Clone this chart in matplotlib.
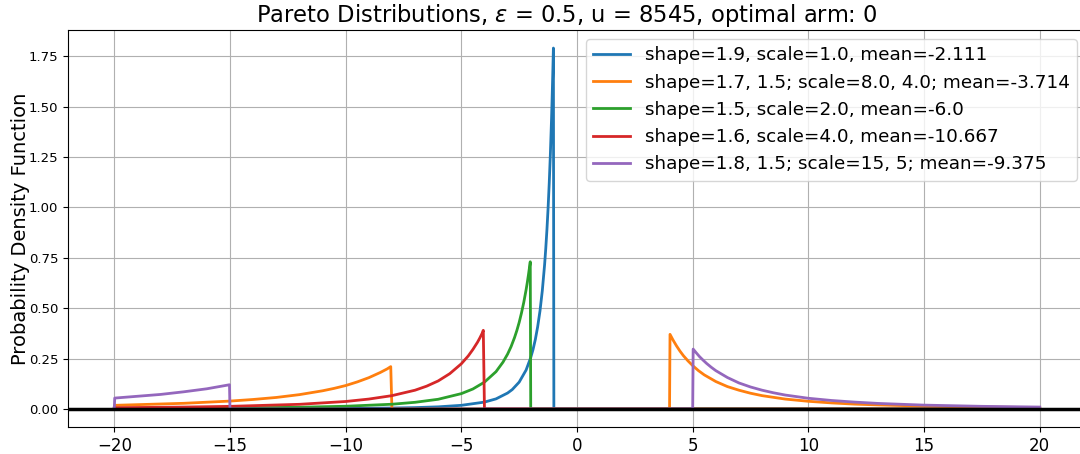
import matplotlib
matplotlib.use("Agg")
import matplotlib.pyplot as plt

labels = [
    "shape=1.9, scale=1.0, mean=-2.111",
    "shape=1.7, 1.5; scale=8.0, 4.0; mean=-3.714",
    "shape=1.5, scale=2.0, mean=-6.0",
    "shape=1.6, scale=4.0, mean=-10.667",
    "shape=1.8, 1.5; scale=15, 5; mean=-9.375",
]
colors = ["#1f77b4", "#ff7f0e", "#2ca02c", "#d62728", "#9467bd"]

# pdf values
blue_x = [-20, -15, -12, -10, -8, -7, -6, -5, -4, -3.5, -3, -2.8, -2.5, -2.2, -2, -1.9,
          -1.8, -1.7, -1.6, -1.5, -1.4, -1.35, -1.3, -1.25, -1.2, -1.15, -1.1, -1.08,
          -1.05, -1.04, -1.02, -1.0, 20]
blue_y = [0.0003, 0.0007, 0.0014, 0.0024, 0.0046, 0.0067, 0.0105, 0.018, 0.034, 0.050,
          0.079, 0.096, 0.133, 0.193, 0.255, 0.295, 0.345, 0.408, 0.486, 0.586, 0.716,
          0.796, 0.888, 0.995, 1.12, 1.267, 1.44, 1.52, 1.65, 1.696, 1.79, 0.0, 0.0]

orange_x = [-20, -19.98, -17, -15, -14, -13, -12, -11, -10.5, -10, -9.5, -9, -8.5, -8.2,
            -8.05, -8.0,
            4.0, 4.02, 4.15, 4.3, 4.45, 4.6, 4.8, 5, 5.25, 5.5, 6, 6.5, 7, 7.5, 8, 9, 10,
            11, 12, 13, 15, 17.5, 20]
orange_y = [0.0, 0.018, 0.028, 0.039, 0.047, 0.057, 0.071, 0.090, 0.102, 0.116, 0.134,
            0.155, 0.181, 0.199, 0.21, 0.0,
            0.0, 0.37, 0.342, 0.313, 0.287, 0.264, 0.238, 0.215, 0.190, 0.169, 0.136,
            0.111, 0.093, 0.078, 0.066, 0.049, 0.038, 0.030, 0.024, 0.020, 0.014,
            0.0094, 0.0067]

green_x = [-20, -15, -12, -10, -8, -7, -6, -5, -4.5, -4, -3.5, -3.2, -3, -2.85, -2.7,
           -2.6, -2.5, -2.4, -2.3, -2.2, -2.15, -2.1, -2.05, -2.02, -2.0, 20]
green_y = [0.0024, 0.0049, 0.0085, 0.0134, 0.0234, 0.033, 0.048, 0.076, 0.099, 0.133,
           0.185, 0.232, 0.272, 0.309, 0.354, 0.389, 0.429, 0.476, 0.529, 0.591, 0.626,
           0.664, 0.705, 0.73, 0.0, 0.0]

red_x = [-20, -17, -15, -12, -10, -9, -8, -7, -6.5, -6, -5.5, -5, -4.7, -4.5, -4.3,
         -4.2, -4.1, -4.05, -4.0, 20]
red_y = [0.0061, 0.0093, 0.0129, 0.023, 0.037, 0.049, 0.066, 0.093, 0.113, 0.139, 0.175,
         0.224, 0.263, 0.295, 0.331, 0.352, 0.375, 0.39, 0.0, 0.0]

purple_x = [-20, -19.98, -18, -17, -16, -15.02, -15.0,
            5.0, 5.02, 5.15, 5.3, 5.45, 5.6, 5.8, 6, 6.5, 7, 7.5, 8, 8.5, 9, 10, 11, 12,
            13, 15, 17.5, 20]
purple_y = [0.0, 0.054, 0.072, 0.085, 0.100, 0.12, 0.0,
            0.0, 0.297, 0.279, 0.259, 0.242, 0.226, 0.207, 0.190, 0.156, 0.129, 0.109,
            0.093, 0.080, 0.069, 0.053, 0.042, 0.034, 0.0275, 0.019, 0.013, 0.0094]

series = [(blue_x, blue_y), (orange_x, orange_y), (green_x, green_y),
          (red_x, red_y), (purple_x, purple_y)]

fig = plt.figure(figsize=(10.8, 4.54), dpi=100)
ax = fig.add_axes([68 / 1080, 27 / 454, 1018 / 1080, 397 / 454])

for (xs, ys), c, lab in zip(series, colors, labels):
    ax.plot(xs, ys, color=c, lw=2, label=lab)

ax.axhline(0, color="black", lw=2.5)
ax.set_xlim(-22, 22)
ax.set_ylim(-0.0895, 1.8795)
ax.set_yticks([0.0, 0.25, 0.5, 0.75, 1.0, 1.25, 1.5, 1.75])
ax.tick_params(axis="y", labelsize=9.5)
ax.tick_params(axis="x", labelsize=12)
ax.grid(True)
ax.set_ylabel("Probability Density Function", fontsize=14, labelpad=-1)
ax.set_title(r"Pareto Distributions, $\epsilon$ = 0.5, u = 8545, optimal arm: 0",
             fontsize=16.3, x=0.49)
ax.legend(loc="upper right", fontsize=13.2)

fig.savefig("out.png", dpi=100)
